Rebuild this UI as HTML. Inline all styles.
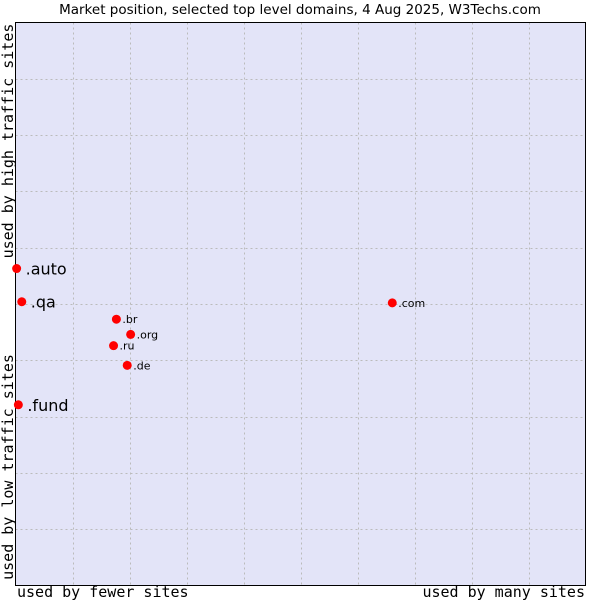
<!DOCTYPE html>
<html><head><meta charset="utf-8"><style>
body{margin:0;background:#fff;width:600px;height:600px;overflow:hidden}
svg{display:block}
</style></head><body>
<svg width="600" height="600" xmlns="http://www.w3.org/2000/svg">
<text x="300" y="14" text-anchor="middle" font-family="DejaVu Sans, sans-serif" font-size="13.5" fill="#000">Market position, selected top level domains, 4 Aug 2025, W3Techs.com</text>
<rect x="15.5" y="22.5" width="570" height="563" fill="#e3e4f8" stroke="none"/>
<g id="grid"></g>
<path d="M15.5 22.5 H585.5 V585.5 H15.5 Z" fill="none" stroke="#000" stroke-width="1"/>
<g id="points"></g>
<text transform="translate(13,141) rotate(-90)" text-anchor="middle" font-family="DejaVu Sans Mono, monospace" font-size="15">used by high traffic sites</text>
<text transform="translate(13,467) rotate(-90)" text-anchor="middle" font-family="DejaVu Sans Mono, monospace" font-size="15">used by low traffic sites</text>
<text x="17" y="597" font-family="DejaVu Sans Mono, monospace" font-size="15">used by fewer sites</text>
<text x="585" y="597" text-anchor="end" font-family="DejaVu Sans Mono, monospace" font-size="15">used by many sites</text>
</svg>
<script>
const names = [".auto", ".qa", ".fund", ".br", ".org", ".ru", ".de", ".com"];
const xValues = [0.2, 1.1, 0.5, 17.7, 20.2, 17.2, 19.6, 66.1];
const yValues = [56.3, 50.4, 32.1, 47.3, 44.6, 42.6, 39.1, 50.2];
const bigLabel = [true, true, true, false, false, false, false, false];
const X0=15.5, X1=585.5, Y0=585.5, Y1=22.5;
const sx=v=>X0+(X1-X0)*v/100;
const sy=v=>Y0-(Y0-Y1)*v/100;
const NS="http://www.w3.org/2000/svg";
const grid=document.getElementById('grid');
for(let i=1;i<10;i++){
  const v=document.createElementNS(NS,'line');
  
  
  const x=Math.round(sx(i*10))+0.5;
  v.setAttribute('x1',x);v.setAttribute('x2',x);v.setAttribute('y1',Y1);v.setAttribute('y2',Y0);
  v.setAttribute('stroke','#bbb');v.setAttribute('stroke-dasharray','2,3');
  grid.appendChild(v);
  const h=document.createElementNS(NS,'line');
  
  
  const y=Math.round(sy(i*10))+0.5;
  h.setAttribute('x1',X0);h.setAttribute('x2',X1);h.setAttribute('y1',y);h.setAttribute('y2',y);
  h.setAttribute('stroke','#bbb');h.setAttribute('stroke-dasharray','2,3');
  grid.appendChild(h);
}
const pts=document.getElementById('points');
names.forEach((n,i)=>{
  const x=sx(xValues[i]), y=sy(yValues[i]);
  const d=document.createElementNS(NS,'circle');
  
  
  d.setAttribute('cx',x);d.setAttribute('cy',y);d.setAttribute('r',4.5);d.setAttribute('fill','#f00');
  pts.appendChild(d);
  const t=document.createElementNS(NS,'text');
  
  
  const big=bigLabel[i];
  t.setAttribute('x',x+(big?9:6));t.setAttribute('y',y+(big?6:4));
  t.setAttribute('font-family','DejaVu Sans, sans-serif');
  t.setAttribute('font-size',big?16:11);
  t.textContent=n;
  pts.appendChild(t);
});
</script>
</body></html>
